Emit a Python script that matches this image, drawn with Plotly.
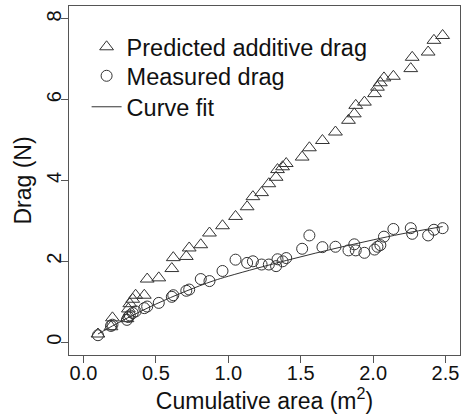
import plotly.graph_objects as go

# Cumulative area (m^2)
area = [0.10, 0.19, 0.20, 0.30, 0.31, 0.32, 0.34, 0.36, 0.42, 0.44, 0.52, 0.61, 0.62,
        0.71, 0.73, 0.81, 0.87, 0.96, 1.05, 1.13, 1.17, 1.23, 1.28, 1.33, 1.34, 1.375,
        1.40, 1.51, 1.56, 1.65, 1.74, 1.83, 1.87, 1.88, 1.94, 2.01, 2.03, 2.05, 2.075,
        2.14, 2.26, 2.27, 2.38, 2.42, 2.48]

predicted = [0.20, 0.38, 0.60, 0.58, 0.82, 0.95, 1.06, 1.16, 1.16, 1.56, 1.59, 1.82, 2.09,
             2.12, 2.33, 2.41, 2.70, 2.88, 3.11, 3.35, 3.60, 3.70, 3.92, 4.08, 4.27, 4.34,
             4.42, 4.58, 4.81, 4.99, 5.20, 5.49, 5.65, 5.86, 5.94, 6.15, 6.31, 6.42, 6.54,
             6.58, 6.77, 7.05, 7.18, 7.47, 7.59]

measured = [0.17, 0.40, 0.43, 0.55, 0.62, 0.66, 0.72, 0.76, 0.84, 0.88, 0.97, 1.12, 1.16,
            1.27, 1.30, 1.56, 1.51, 1.76, 2.04, 1.96, 2.00, 1.92, 1.92, 1.88, 2.05, 2.00,
            2.08, 2.31, 2.64, 2.35, 2.36, 2.27, 2.42, 2.27, 2.21, 2.29, 2.36, 2.40, 2.61,
            2.80, 2.82, 2.68, 2.64, 2.78, 2.82]

fit_x = [0.10, 0.20, 0.30, 0.40, 0.50, 0.60, 0.70, 0.80, 0.90, 1.00, 1.20, 1.40, 1.60,
         1.80, 2.00, 2.20, 2.48]
fit_y = [0.20, 0.40, 0.59, 0.77, 0.94, 1.10, 1.25, 1.39, 1.52, 1.63, 1.83, 2.02, 2.20,
         2.37, 2.53, 2.68, 2.86]

x_ticks = [0.0, 0.5, 1.0, 1.5, 2.0, 2.5]
y_ticks = [0, 2, 4, 6, 8]

FONT = "Liberation Sans, Arial, Helvetica, sans-serif"
INK = "#333333"

fig = go.Figure()
fig.add_trace(go.Scatter(
    x=area, y=predicted, mode="markers", name="Predicted additive drag", legend="legend",
    marker=dict(symbol="triangle-up-open", size=12, color=INK, line=dict(width=1, color=INK)),
))
fig.add_trace(go.Scatter(
    x=area, y=measured, mode="markers", name="Measured drag", legend="legend2",
    marker=dict(symbol="circle-open", size=11, color=INK, line=dict(width=1, color=INK)),
))
fig.add_trace(go.Scatter(
    x=fit_x, y=fit_y, mode="lines", name="Curve fit", legend="legend3",
    line=dict(color=INK, width=1, shape="spline"),
))

axis_common = dict(
    showgrid=False, zeroline=False, showline=True, linecolor="#555555", linewidth=1,
    mirror=True, ticks="outside", ticklen=7, tickcolor="#555555", tickwidth=1,
    tickfont=dict(family=FONT, size=20, color="#111111"),
)

leg_common = dict(x=0.045, xanchor="left", yanchor="middle", bgcolor="rgba(0,0,0,0)",
                  font=dict(family=FONT, size=23.5, color="#111111"))

fig.update_layout(
    width=463, height=416,
    margin=dict(l=69, r=3, t=6, b=61),
    paper_bgcolor="white", plot_bgcolor="white",
    font=dict(family=FONT, color="#111111"),
    showlegend=True,
    legend=dict(y=0.8825, **leg_common),
    legend2=dict(y=0.7994, **leg_common),
    legend3=dict(y=0.7106, **leg_common),
    xaxis=dict(range=[-0.1, 2.6], tickvals=x_ticks, ticktext=[f"{v:.1f}" for v in x_ticks],
               ticklabelstandoff=-7,
               title=dict(text="Cumulative area (m<sup>2</sup>)", font=dict(family=FONT, size=23),
                          standoff=1),
               **axis_common),
    yaxis=dict(range=[-0.32, 8.32], tickvals=y_ticks, ticktext=[str(v) for v in y_ticks],
               tickangle=-90, ticklabelstandoff=-8,
               title=dict(text="Drag (N)", font=dict(family=FONT, size=23), standoff=4),
               **axis_common),
)

fig.write_html("out.html", config={"displayModeBar": False},
               post_script="document.body.style.margin='0';")
